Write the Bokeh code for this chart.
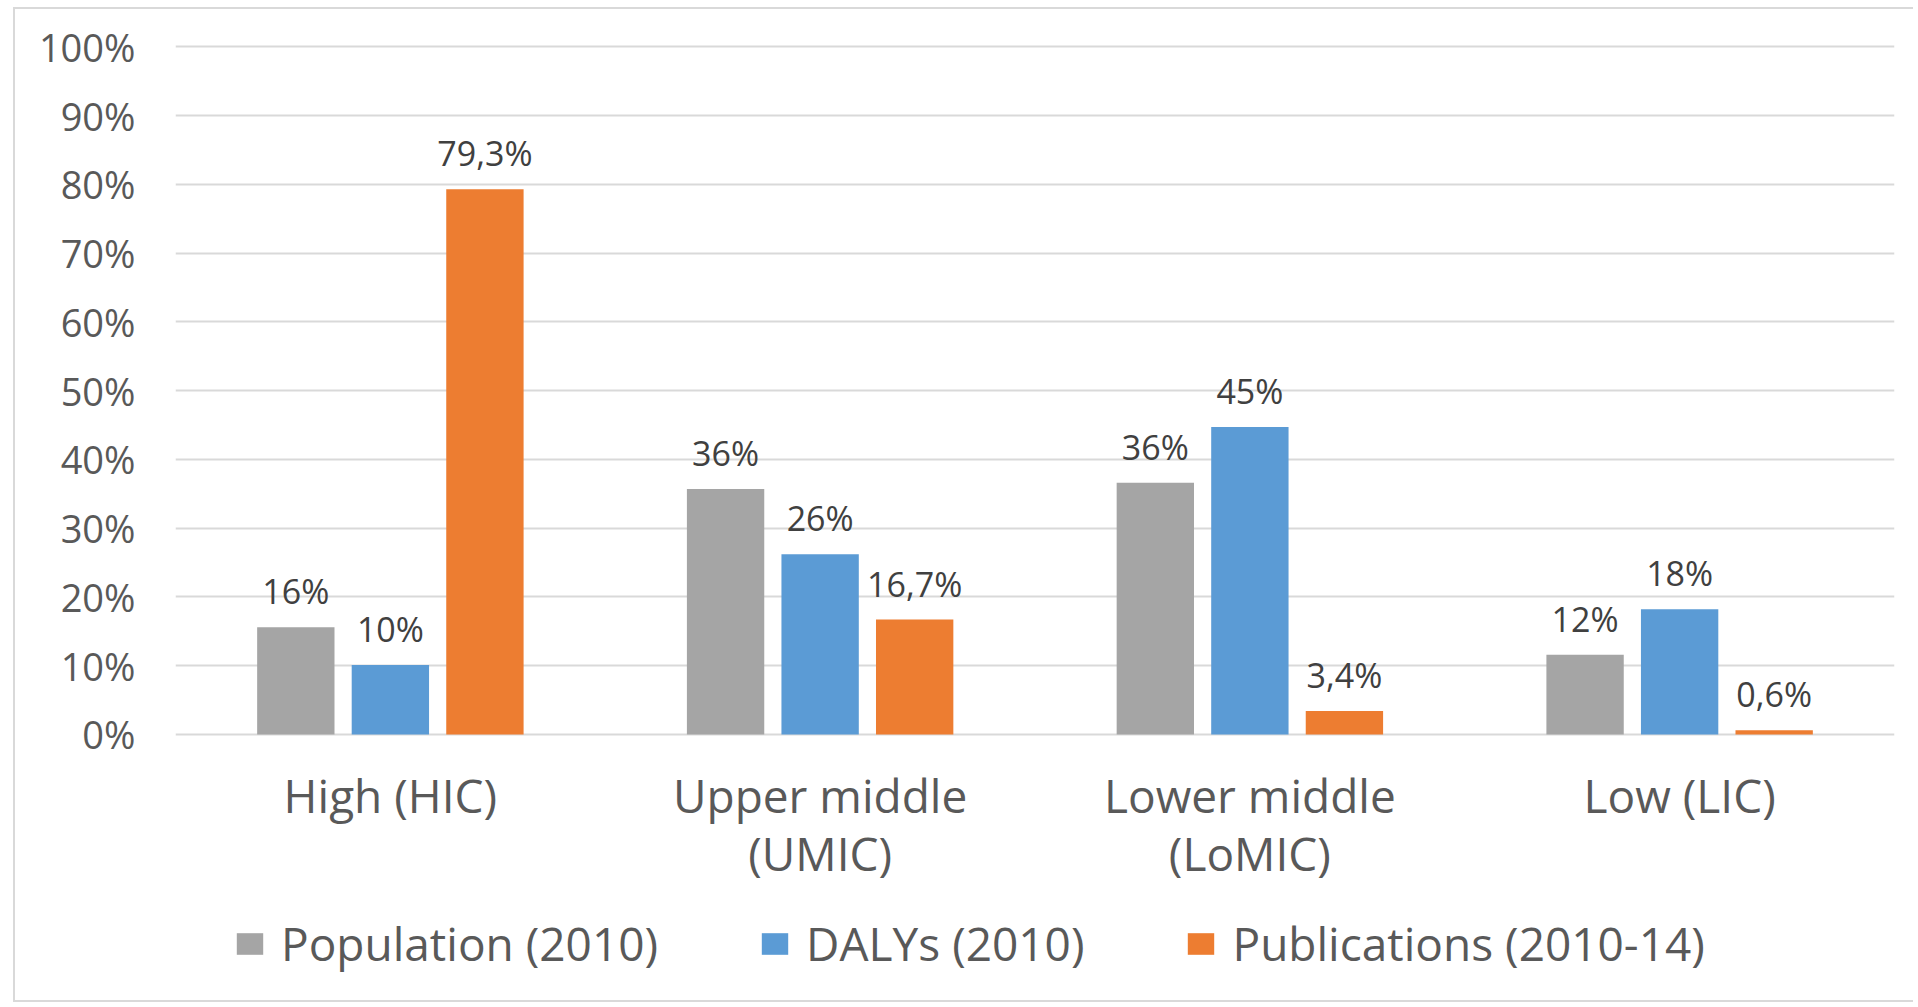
from bokeh.plotting import figure
from bokeh.models import ColumnDataSource, FactorRange, Range1d, Legend, LegendItem, FixedTicker
from bokeh.transform import dodge
from bokeh.core.properties import value
from bokeh.embed import file_html
from bokeh.resources import INLINE

categories = ["High (HIC)", "Upper middle\n(UMIC)", "Lower middle\n(LoMIC)", "Low (LIC)"]
population = [15.6, 35.7, 36.6, 11.6]
dalys = [10.1, 26.2, 44.7, 18.2]
publications = [79.3, 16.7, 3.4, 0.6]
population_labels = ["16%", "36%", "36%", "12%"]
dalys_labels = ["10%", "26%", "45%", "18%"]
publications_labels = ["79,3%", "16,7%", "3,4%", "0,6%"]
series_names = ["Population (2010)", "DALYs (2010)", "Publications (2010-14)"]
y_ticks = [0, 10, 20, 30, 40, 50, 60, 70, 80, 90, 100]

FONT = "Open Sans"
TEXT = "#595959"
colors = ["#A5A5A5", "#5B9BD5", "#ED7D31"]
offsets = [-0.22, 0.0, 0.22]
bar_w = 0.18

W, H = 1900, 995
# the plotting frame extends below 0 so that category labels and legend sit inside it
p = figure(x_range=FactorRange(*categories, range_padding=0), y_range=Range1d(-39, 100.5),
           width=W, height=H, output_backend="svg", toolbar_location=None,
           min_border_left=160, min_border_right=21, min_border_top=34, min_border_bottom=2)
p.styles = {"border-left": "2px solid #d9d9d9", "border-top": "2px solid #d9d9d9",
            "border-bottom": "2px solid #d9d9d9", "margin-left": "13px", "margin-top": "7px"}
p.outline_line_color = None
p.background_fill_color = "white"
p.border_fill_color = "white"

line1 = [c.split("\n")[0] for c in categories]
line2 = [c.split("\n")[1] if "\n" in c else "" for c in categories]
src = ColumnDataSource(dict(cat=categories, pop=population, daly=dalys, pub=publications,
                            pop_l=population_labels, daly_l=dalys_labels, pub_l=publications_labels,
                            line1=line1, line2=line2, base=[0] * len(categories)))

renderers = []
for key, lab, c, off in zip(["pop", "daly", "pub"], ["pop_l", "daly_l", "pub_l"], colors, offsets):
    r = p.vbar(x=dodge("cat", off, range=p.x_range), top=key, width=bar_w, bottom=0,
               source=src, fill_color=c, line_color=None)
    renderers.append(r)
    p.text(x=dodge("cat", off, range=p.x_range), y=key, text=lab, source=src,
           text_align="center", text_baseline="bottom", y_offset=-13,
           text_font=value(FONT), text_font_size="34px", text_color="#404040")

# category labels (two lines) below the zero line
p.text(x="cat", y="base", text="line1", source=src, text_align="center", text_baseline="middle",
       y_offset=61, text_font=value(FONT), text_font_size="46px", text_color=TEXT)
p.text(x="cat", y="base", text="line2", source=src, text_align="center", text_baseline="middle",
       y_offset=119, text_font=value(FONT), text_font_size="46px", text_color=TEXT)

p.xgrid.grid_line_color = None
p.ygrid.grid_line_color = "#D9D9D9"
p.ygrid.grid_line_width = 2
p.ygrid.ticker = FixedTicker(ticks=y_ticks)

p.xaxis.visible = False
p.yaxis.ticker = FixedTicker(ticks=y_ticks)
p.yaxis.major_label_overrides = {t: f"{t}%" for t in y_ticks}
p.yaxis.axis_line_color = None
p.yaxis.major_tick_line_color = None
p.yaxis.minor_tick_line_color = None
p.yaxis.major_label_standoff = 34
p.yaxis.major_label_text_font = FONT
p.yaxis.major_label_text_font_size = "38px"
p.yaxis.major_label_text_color = TEXT

legend = Legend(items=[LegendItem(label=n, renderers=[r]) for n, r in zip(series_names, renderers)],
                orientation="horizontal", location=(58, 28),
                label_text_font=FONT, label_text_font_size="46px", label_text_color=TEXT,
                glyph_width=33, glyph_height=27, spacing=100, label_standoff=15,
                padding=0, margin=0, border_line_color=None, background_fill_alpha=0)
p.add_layout(legend, "center")

open("out.html", "w").write(file_html(p, INLINE))
